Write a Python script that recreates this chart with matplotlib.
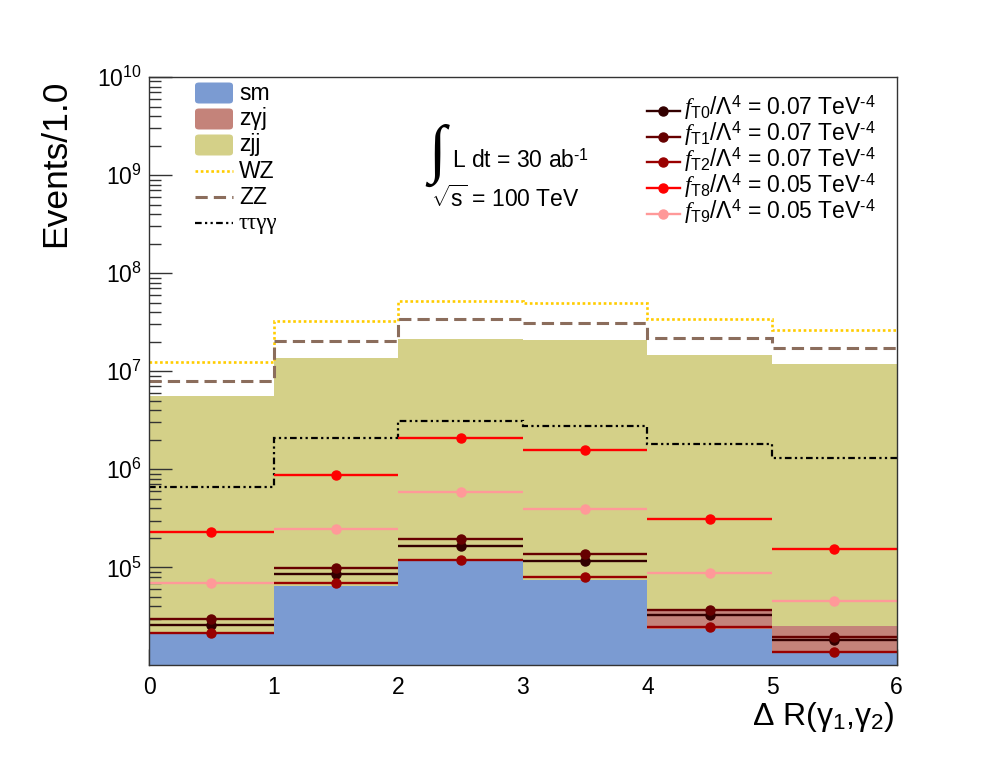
import matplotlib
matplotlib.use("Agg")
import matplotlib.pyplot as plt
import numpy as np
from matplotlib.patches import FancyBboxPatch
from matplotlib.lines import Line2D
from matplotlib.ticker import MultipleLocator, LogLocator, FixedLocator, NullFormatter

plt.rcParams['font.family'] = ['Liberation Sans', 'DejaVu Sans']
plt.rcParams['mathtext.fontset'] = 'custom'
plt.rcParams['mathtext.rm'] = 'Liberation Sans'
plt.rcParams['mathtext.it'] = 'Liberation Serif:italic'
plt.rcParams['mathtext.bf'] = 'Liberation Sans:bold'

# bin edges in Delta R
edges = [0, 1, 2, 3, 4, 5, 6]

# stacked backgrounds
sm = [2.13e4, 6.5e4, 1.15e5, 7.36e4, 2.36e4, 1.35e4]
zaj = [0, 0, 0, 0, 1.44e4, 1.2e4]
zjj = [5.62e6, 1.37e7, 2.13e7, 2.05e7, 1.45e7, 1.19e7]

# overlaid backgrounds
wz = [1.25e7, 3.27e7, 5.25e7, 4.92e7, 3.43e7, 2.65e7]
zz = [8.0e6, 2.04e7, 3.37e7, 3.07e7, 2.19e7, 1.73e7]
ttaa = [6.6e5, 2.07e6, 3.1e6, 2.77e6, 1.82e6, 1.31e6]

# signals
ft0 = [2.6e4, 8.5e4, 1.64e5, 1.15e5, 3.3e4, 1.82e4]
ft1 = [2.96e4, 9.8e4, 1.94e5, 1.37e5, 3.7e4, 1.97e4]
ft2 = [2.16e4, 6.9e4, 1.2e5, 7.9e4, 2.46e4, 1.38e4]
ft8 = [2.28e5, 8.7e5, 2.09e6, 1.56e6, 3.1e5, 1.53e5]
ft9 = [7.0e4, 2.45e5, 5.8e5, 3.9e5, 8.7e4, 4.5e4]

sig_labels = ["T0", "T1", "T2", "T8", "T9"]
sig_values = ["0.07", "0.07", "0.07", "0.05", "0.05"]
sig_colors = ["#330000", "#660000", "#990000", "#ff0000", "#ff9999"]

c_sm = "#7b9bd2"
c_zaj = "#c4837a"
c_zjj = "#d4d088"
c_wz = "#ffcc00"
c_zz = "#8b6d5c"

W, H = 998, 775
fig = plt.figure(figsize=(W / 100, H / 100), dpi=100)
ax = fig.add_axes([149 / W, 1 - 665 / H, (896.6 - 149) / W, 588 / H])
ymin, ymax = 1.01e4, 1e10
ax.set_yscale('log')
ax.set_xlim(0, 6)
ax.set_ylim(ymin, ymax)

# stack: sm, zgj, zjj
low = np.full(6, ymin * 0.5)
b1 = np.array(sm)
b2 = b1 + np.array(zaj)
b3 = b2 + np.array(zjj)
ax.stairs(b3, edges, baseline=low, fill=True, color=c_zjj, lw=0, zorder=1)
ax.stairs(b2, edges, baseline=low, fill=True, color=c_zaj, lw=0, zorder=2)
ax.stairs(b1, edges, baseline=low, fill=True, color=c_sm, lw=0, zorder=3)

ls_wz = (0, (1, 1))
ls_zz = (0, (4, 2))
ls_tt = (0, (3, 1.5, 1, 1.5, 1, 1.5))
ax.stairs(wz, edges, baseline=None, color=c_wz, lw=1.9, ls=ls_wz, zorder=4)
ax.stairs(zz, edges, baseline=None, color=c_zz, lw=2.2, ls=ls_zz, zorder=4)
ax.stairs(ttaa, edges, baseline=None, color="black", lw=1.6, ls=ls_tt, zorder=4)

centers = 0.5 * (np.array(edges[:-1]) + np.array(edges[1:]))
for vals, col in zip([ft0, ft1, ft2, ft8, ft9], sig_colors):
    ax.errorbar(centers, vals, xerr=0.5, fmt='o', color=col, ms=6.5,
                elinewidth=1.7, capsize=0, zorder=5)

# axes styling
ax.xaxis.set_major_locator(MultipleLocator(1))
ax.xaxis.set_minor_locator(MultipleLocator(0.2))
ax.yaxis.set_major_locator(FixedLocator([1e5, 1e6, 1e7, 1e8, 1e9, 1e10]))
ax.yaxis.set_minor_locator(LogLocator(base=10, subs=np.arange(2, 10), numticks=20))
ax.yaxis.set_minor_formatter(NullFormatter())
ax.tick_params(axis='both', which='both', direction='in', top=False, right=False,
               labelsize=16.5, color='#333333')
ax.tick_params(axis='x', which='major', length=11.5, width=1, pad=8)
ax.tick_params(axis='x', which='minor', length=5.8, width=1)
ax.tick_params(axis='y', which='major', length=16.5, width=1, pad=5)
ax.tick_params(axis='y', which='minor', length=8.6, width=1)
for s in ax.spines.values():
    s.set_linewidth(1)
    s.set_color('#333333')
    s.set_zorder(6)

fig.text(55.5 / W, 1 - 80 / H, "Events/1.0", rotation=90, ha='center', va='top',
         fontsize=25.5)
fig.text(895 / W, 1 - 725 / H, r"Δ R(γ$_{\mathregular{1}}$,γ$_{\mathregular{2}}$)",
         ha='right', va='baseline', fontsize=23)


def px(x, y):
    return x / W, 1 - y / H


# left legend
left_rows = [("sm", 'box', c_sm), ("zγj", 'box', c_zaj), ("zjj", 'box', c_zjj),
             ("WZ", ls_wz, c_wz), ("ZZ", ls_zz, c_zz), ("ττγγ", ls_tt, "black")]
lws = {"WZ": 1.9, "ZZ": 2.2, "ττγγ": 1.6}
for i, (lab, kind, col) in enumerate(left_rows):
    yc = 93 + 26 * i
    if kind == 'box':
        x0, y0 = px(195, yc + 10.5)
        x1, y1 = px(233, yc - 10.5)
        fig.patches.append(FancyBboxPatch((x0, y0), x1 - x0, y1 - y0,
                           boxstyle="round,pad=0,rounding_size=0.004",
                           transform=fig.transFigure, color=col, lw=0))
    else:
        xa, ya = px(195, yc)
        xb, _ = px(233, yc)
        fig.lines.append(Line2D([xa, xb], [ya, ya], transform=fig.transFigure,
                                color=col, lw=lws[lab], ls=kind))
    tx, ty = px(239, yc + 6.5)
    fam = ['Liberation Serif', 'DejaVu Sans'] if lab == "ττγγ" else None
    fig.text(tx, ty, lab, ha='left', va='baseline', fontsize=16.5, family=fam)

# right legend
for i, (lab, val, col) in enumerate(zip(sig_labels, sig_values, sig_colors)):
    yc = 110.7 + 25.8 * i
    xa, ya = px(647, yc)
    xb, _ = px(680, yc)
    xm, _ = px(663, yc)
    fig.lines.append(Line2D([xa, xb], [ya, ya], transform=fig.transFigure,
                            color=col, lw=1.7))
    fig.lines.append(Line2D([xm], [ya], transform=fig.transFigure, color=col,
                            marker='o', ms=6.5, ls='none'))
    tx, ty = px(684, yc + 4.5)
    fig.text(tx, ty, r"$f_{\mathregular{%s}}$/Λ$^{\mathregular{4}}$ = %s TeV$^{\text{-4}}$"
             % (lab, val), ha='left', va='baseline', fontsize=16.5)

# luminosity / energy text
ix, iy = px(437, 155)
fig.text(ix, iy, "∫", family=['Liberation Serif', 'DejaVu Sans'], fontsize=46,
         ha='center', va='center')
tx, ty = px(451.7, 168)
fig.text(tx, ty, r"L dt = 30 ab$^{\text{-1}}$", ha='left', va='baseline',
         fontsize=16.5)
tx, ty = px(431, 206.7)
fig.text(tx, ty, r"$\sqrt{\mathregular{s}}$ = 100 TeV", ha='left', va='baseline',
         fontsize=16.5)

fig.savefig("out.png", dpi=100)
